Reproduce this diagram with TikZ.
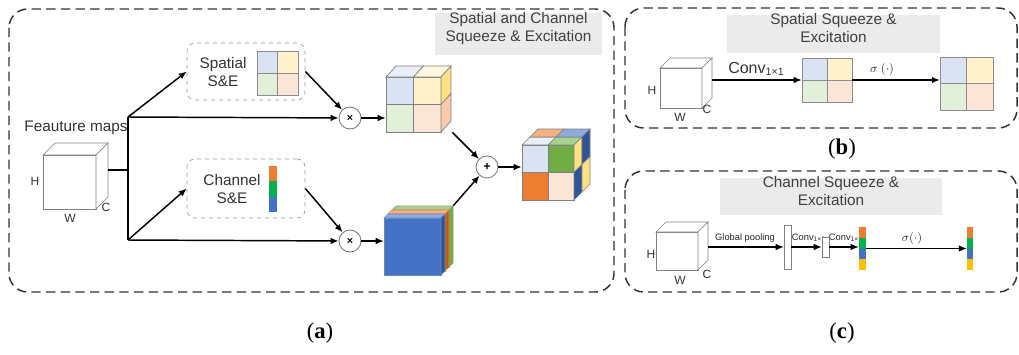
\documentclass[tikz,border=0pt]{standalone}
\usepackage{fontspec}
\setmainfont{Liberation Sans}
\newfontfamily\capfont{Liberation Serif}
\usetikzlibrary{arrows.meta,fit}
\definecolor{lblue}{HTML}{DAE3F3}
\definecolor{lyellow}{HTML}{FFF2CC}
\definecolor{lgreen}{HTML}{E2F0D9}
\definecolor{lorange}{HTML}{FBE5D6}
\definecolor{tblue}{HTML}{E9EEF8}
\definecolor{tyellow}{HTML}{FFF7DF}
\definecolor{syellow}{HTML}{FFE083}
\definecolor{sorange}{HTML}{F8CBAD}
\definecolor{corange}{HTML}{ED7D31}
\definecolor{cgreen}{HTML}{00B050}
\definecolor{cblue}{HTML}{4472C4}
\definecolor{cgold}{HTML}{FFC000}
\definecolor{mgreen}{HTML}{70AD47}
\definecolor{pgreen}{HTML}{A9D18E}
\definecolor{porange}{HTML}{F4B183}
\definecolor{pblue}{HTML}{8FAADC}
\definecolor{dblue}{HTML}{2F5597}
\definecolor{dorange}{HTML}{C55A11}
\definecolor{dgreen}{HTML}{548235}
\definecolor{titlegray}{HTML}{EBEBEB}
\newcommand\wcube[5]{%
  \draw[cl,fill=white] (#1,#2) rectangle (#3,#4);
  \draw[cl,fill=white] (#1,#2) -- (#1+#5,#2-#5) -- (#3+#5,#2-#5) -- (#3,#2) -- cycle;
  \draw[cl,fill=white] (#3,#2) -- (#3+#5,#2-#5) -- (#3+#5,#4-#5) -- (#3,#4) -- cycle;
}
\newcommand\sgrid[4]{%
  \fill[lblue] (#1,#2) rectangle ({(#1+#3)/2},{(#2+#4)/2});
  \fill[lyellow] ({(#1+#3)/2},#2) rectangle (#3,{(#2+#4)/2});
  \fill[lgreen] (#1,{(#2+#4)/2}) rectangle ({(#1+#3)/2},#4);
  \fill[lorange] ({(#1+#3)/2},{(#2+#4)/2}) rectangle (#3,#4);
  \draw[gl] (#1,#2) rectangle (#3,#4);
  \draw[gl] ({(#1+#3)/2},#2) -- ({(#1+#3)/2},#4);
  \draw[gl] (#1,{(#2+#4)/2}) -- (#3,{(#2+#4)/2});
}
\begin{document}
\begin{tikzpicture}[x=0.75pt,y=-0.75pt,
  panel/.style={draw=black!80, dash pattern=on 7pt off 4pt, line width=1.1pt, rounded corners=14pt},
  title/.style={fill=titlegray, inner sep=0pt, align=center, font=\fontsize{11.5}{13.5}\selectfont, text=black!75},
  cl/.style={draw=black!50, line width=0.5pt},
  gl/.style={draw=black!45, line width=0.5pt},
  arr/.style={-{Latex[length=6pt,width=5pt]}, line width=1.1pt},
  lab/.style={font=\fontsize{11.5}{13.5}\selectfont, text=black!80, inner sep=1pt, align=center},
  dim/.style={font=\fontsize{9}{10}\selectfont, text=black!80, inner sep=0.5pt},
  small/.style={font=\fontsize{7}{8}\selectfont, text=black!85, inner sep=0.5pt},
  op/.style={circle, draw=black!55, fill=white, minimum size=16.5pt, inner sep=0pt, line width=0.6pt},
  sebox/.style={draw=black!40, dashed, rounded corners=6pt, line width=0.5pt, inner sep=0pt},
  capt/.style={font=\capfont\fontsize{17}{20}\selectfont, inner sep=0pt},
  anchorbox/.style={inner sep=0pt}
]
\useasboundingbox (0,0) rectangle (1019,354);

% ===================== panel (a) =====================
\draw[panel] (9,9) rectangle (614,292);
\node[title, fit={(435,13) (602,55)}] (ta) {Spatial and Channel\\Squeeze \& Excitation};

% feature map cube
\wcube{43}{155}{96}{209}{12}
\node[anchorbox, fit={(43,143) (108,209)}] (fm) {};
\node[lab] (fmlab) at (76,128) {Feauture maps};
\node[dim] (fmH) at (35,181) {H};
\node[dim] (fmW) at (70,218) {W};
\node[dim] (fmC) at (106,207) {C};

% S&E boxes
\node[sebox, fit={(187,43) (305,100)}] (sp) {};
\node[lab] (sptxt) at (223,72) {Spatial\\S\&E};
\sgrid{257}{51}{298}{95}
\node[sebox, fit={(187,159) (305,218)}] (ch) {};
\node[lab] (chtxt) at (232,189) {Channel\\S\&E};
\fill[corange] (269,166) rectangle (277,181.3);
\fill[cgreen] (269,181.3) rectangle (277,196.7);
\fill[cblue] (269,196.7) rectangle (277,212);

% operators
\node[op] (m1) at (350,118) {\fontsize{8}{8}\selectfont\textbf{×}};
\node[op] (m2) at (350,241) {\fontsize{8}{8}\selectfont\textbf{×}};
\node[op] (add) at (487,167) {\fontsize{9}{9}\selectfont\textbf{+}};

% upper (spatial) cube
\fill[lblue] (386,77) rectangle (413.5,104.5);
\fill[lyellow] (413.5,77) rectangle (441,104.5);
\fill[lgreen] (386,104.5) rectangle (413.5,132);
\fill[lorange] (413.5,104.5) rectangle (441,132);
\draw[cl] (386,77) rectangle (441,132);
\draw[cl] (413.5,77) -- (413.5,132);
\draw[cl] (386,104.5) -- (441,104.5);
\draw[cl,fill=tblue] (386,77) -- (396,66) -- (423.5,66) -- (413.5,77) -- cycle;
\draw[cl,fill=tyellow] (413.5,77) -- (423.5,66) -- (451,66) -- (441,77) -- cycle;
\draw[cl,fill=syellow] (441,77) -- (451,66) -- (451,93.5) -- (441,104.5) -- cycle;
\draw[cl,fill=sorange] (441,104.5) -- (451,93.5) -- (451,121) -- (441,132) -- cycle;
\node[anchorbox, fit={(386,77) (441,132)}] (c1) {};

% lower (channel) cube: three slabs
\draw[draw=dgreen!70, line width=0.4pt, fill=mgreen] (392,210) rectangle (449,267);
\draw[draw=dgreen!70, line width=0.4pt, fill=pgreen] (392,210) -- (396,206) -- (453,206) -- (449,210) -- cycle;
\draw[draw=dgreen!70, line width=0.4pt, fill=mgreen] (449,210) -- (453,206) -- (453,263) -- (449,267) -- cycle;
\draw[draw=dorange!70, line width=0.4pt, fill=corange] (388,214) rectangle (445,271);
\draw[draw=dorange!70, line width=0.4pt, fill=porange] (388,214) -- (392,210) -- (449,210) -- (445,214) -- cycle;
\draw[draw=dorange!70, line width=0.4pt, fill=dorange] (445,214) -- (449,210) -- (449,267) -- (445,271) -- cycle;
\draw[draw=dblue!70, line width=0.4pt, fill=cblue] (384,218) rectangle (441,275);
\draw[draw=dblue!70, line width=0.4pt, fill=pblue] (384,218) -- (388,214) -- (445,214) -- (441,218) -- cycle;
\draw[draw=dblue!70, line width=0.4pt, fill=dblue] (441,218) -- (445,214) -- (445,271) -- (441,275) -- cycle;
\node[anchorbox, fit={(384,218) (441,275)}] (c2) {};

% final cube
\fill[lblue] (522,145) rectangle (548,172.5);
\fill[mgreen] (548,145) rectangle (574,172.5);
\fill[corange] (522,172.5) rectangle (548,200);
\fill[lorange] (548,172.5) rectangle (574,200);
\draw[cl] (522,145) rectangle (574,200);
\draw[cl] (548,145) -- (548,200);
\draw[cl] (522,172.5) -- (574,172.5);
\draw[cl,fill=tblue] (522,145) -- (530,137) -- (556,137) -- (548,145) -- cycle;
\draw[cl,fill=pgreen] (548,145) -- (556,137) -- (582,137) -- (574,145) -- cycle;
\draw[cl,fill=porange] (530,137) -- (538,129) -- (564,129) -- (556,137) -- cycle;
\draw[cl,fill=pblue] (556,137) -- (564,129) -- (590,129) -- (582,137) -- cycle;
\draw[cl,fill=syellow] (574,145) -- (582,137) -- (582,164.5) -- (574,172.5) -- cycle;
\draw[cl,fill=dblue] (582,137) -- (590,129) -- (590,156.5) -- (582,164.5) -- cycle;
\draw[cl,fill=dblue] (574,172.5) -- (582,164.5) -- (582,192) -- (574,200) -- cycle;
\draw[cl,fill=syellow] (582,164.5) -- (590,156.5) -- (590,184) -- (582,192) -- cycle;
\node[anchorbox, fit={(522,145) (574,200)}] (c3) {};

% connectors (a)
\coordinate (split) at (128,170);
\coordinate (b1) at (128,117);
\coordinate (b2) at (128,240);
\draw[line width=1.1pt] (fm.east |- split) -- (split);
\draw[line width=1.1pt] (b1) -- (b2);
\draw[arr] (b1) -- (sp.west);
\draw[arr] (b1) -- (m1);
\draw[arr] (b2) -- (ch.west);
\draw[arr] (b2) -- (m2);
\draw[arr] (sp.east) -- (m1);
\draw[arr] (ch.east) -- (m2);
\draw[arr] (m1) -- (m1 -| c1.west);
\draw[arr] (m2) -- (m2 -| c2.west);
\draw[arr] ([shift={(11,0)}]c1.south east) -- (add);
\draw[arr] ([shift={(12,-12)}]c2.north east) -- (add);
\draw[arr] (add) -- (add -| c3.west);

\node[capt] (capa) at (320,333) {(\textbf{a})};

% ===================== panel (b) =====================
\draw[panel] (625,8) rectangle (1017,128);
\node[title, fit={(727,15) (940,53)}] (tb) {Spatial Squeeze \&\\Excitation};
\wcube{660}{68}{702}{108}{10}
\node[anchorbox, fit={(660,58) (712,108)}] (cb) {};
\node[dim] (cbH) at (652,90) {H};
\node[dim] (cbW) at (680,117) {W};
\node[dim] (cbC) at (707,109) {C};
\sgrid{802}{58}{852}{102}
\node[anchorbox, fit={(802,58) (852,102)}] (g1) {};
\sgrid{940}{57}{993}{110}
\node[anchorbox, fit={(940,57) (993,110)}] (g2) {};
\draw[arr] (cb.east |- g1.west) -- (g1.west);
\draw[arr] (g1.east) -- (g1.east -| g2.west);
\node[lab, font=\fontsize{12}{14}\selectfont] (convb) at (756,69) {Conv{\fontsize{8}{8}\selectfont\raisebox{-0.35ex}{1×1}}};
\node[dim] (sigb) at (882,69) {$\sigma\;(\cdot)$};
\node[capt] (capb) at (842,149) {(\textbf{b})};

% ===================== panel (c) =====================
\draw[panel] (625,171) rectangle (1017,292);
\node[title, fit={(720,178) (942,215)}] (tc) {Channel Squeeze \&\\Excitation};
\wcube{656}{232}{698}{270}{10}
\node[anchorbox, fit={(656,222) (708,270)}] (cc) {};
\node[dim] (ccH) at (651,254) {H};
\node[dim] (ccW) at (680,280) {W};
\node[dim] (ccC) at (707,274) {C};
\node[small] (gp) at (745,238) {Global pooling};
\node[small, anchor=west] (cv1) at (791,238) {Conv{\fontsize{5}{5}\selectfont\raisebox{-0.4ex}{1×1}}};
\node[small, anchor=west] (cv2) at (828,238) {Conv{\fontsize{5}{5}\selectfont\raisebox{-0.4ex}{1×1}}};
\node[dim] (sigc) at (912,238) {$\sigma(\cdot)$};
\node[draw=black!50, fill=white, line width=0.5pt, fit={(784,225) (791,269)}, inner sep=0pt] (pool) {};
\node[draw=black!50, fill=white, line width=0.5pt, fit={(822,237) (829,257)}, inner sep=0pt] (r2) {};
\fill[corange] (859,227) rectangle (866,237.75);
\fill[cgreen] (859,237.75) rectangle (866,248.5);
\fill[cblue] (859,248.5) rectangle (866,259.25);
\fill[cgold] (859,259.25) rectangle (866,270);
\node[anchorbox, fit={(859,227) (866,270)}] (bar1) {};
\fill[corange] (967,227) rectangle (973,237.75);
\fill[cgreen] (967,237.75) rectangle (973,248.5);
\fill[cblue] (967,248.5) rectangle (973,259.25);
\fill[cgold] (967,259.25) rectangle (973,270);
\node[anchorbox, fit={(967,227) (973,270)}] (bar2) {};
\draw[arr, line width=0.9pt] (cc.east |- pool.west) -- (pool.west);
\draw[arr, line width=0.9pt] (pool.east) -- (pool.east -| r2.west);
\draw[arr, line width=0.9pt] (r2.east) -- (r2.east -| bar1.west);
\draw[arr, line width=0.9pt] (bar1.east) -- (bar1.east -| bar2.west);
\node[capt] (capc) at (842,333) {(\textbf{c})};
\end{tikzpicture}
\end{document}
